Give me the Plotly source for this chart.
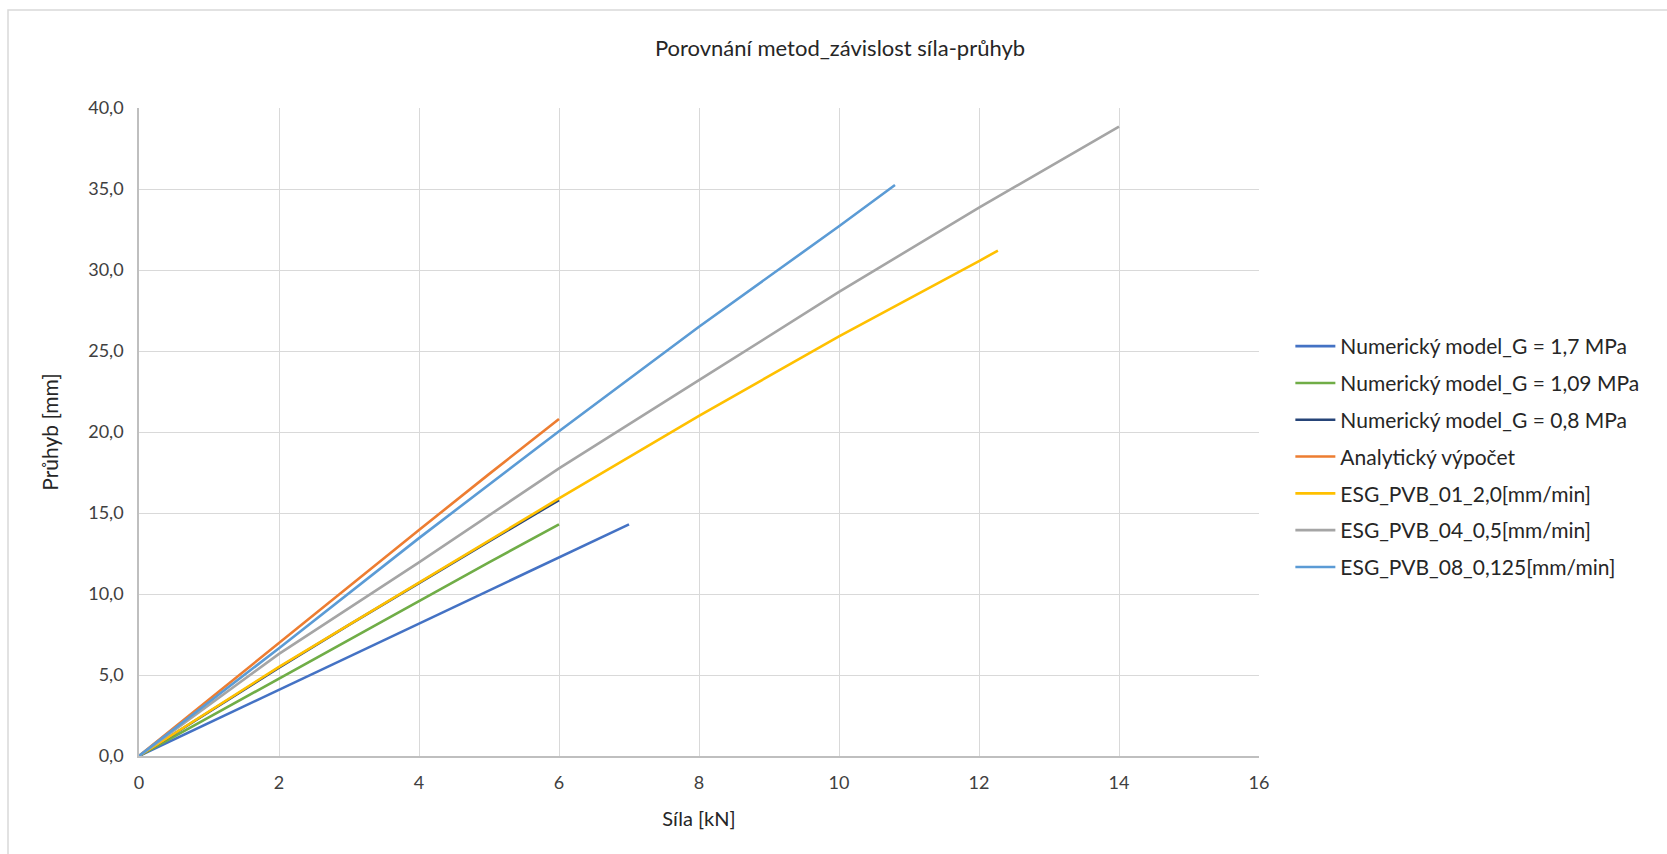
import plotly.graph_objects as go

# Síla [kN] / průhyb [mm] for each method
sila_g17 = [0, 1, 2, 3, 4, 5, 6, 7]
pruhyb_g17 = [0, 2.05, 4.1, 6.15, 8.2, 10.2, 12.25, 14.3]

sila_g109 = [0, 1, 2, 3, 4, 5, 6]
pruhyb_g109 = [0, 2.4, 4.8, 7.2, 9.55, 11.95, 14.3]

sila_g08 = [0, 1, 2, 3, 4, 5, 6]
pruhyb_g08 = [0, 2.75, 5.45, 8.1, 10.7, 13.25, 15.8]

sila_analyt = [0, 1, 2, 3, 4, 5, 6]
pruhyb_analyt = [0, 3.5, 7.0, 10.5, 13.95, 17.4, 20.8]

sila_esg01 = [0, 2, 4, 6, 8, 10, 12, 12.27]
pruhyb_esg01 = [0, 5.5, 10.7, 15.9, 21.0, 25.9, 30.55, 31.2]

sila_esg04 = [0, 2, 4, 6, 8, 10, 12, 14.0]
pruhyb_esg04 = [0, 6.3, 11.95, 17.75, 23.2, 28.65, 33.85, 38.85]

sila_esg08 = [0, 2, 4, 6, 8, 10, 10.8]
pruhyb_esg08 = [0, 6.65, 13.45, 20.05, 26.5, 32.7, 35.25]

series_names = [
    "Numerický model_G = 1,7 MPa",
    "Numerický model_G = 1,09 MPa",
    "Numerický model_G = 0,8 MPa",
    "Analytický výpočet",
    "ESG_PVB_01_2,0[mm/min]",
    "ESG_PVB_04_0,5[mm/min]",
    "ESG_PVB_08_0,125[mm/min]",
]
series_x = [sila_g17, sila_g109, sila_g08, sila_analyt, sila_esg01, sila_esg04, sila_esg08]
series_y = [pruhyb_g17, pruhyb_g109, pruhyb_g08, pruhyb_analyt, pruhyb_esg01, pruhyb_esg04, pruhyb_esg08]
series_colors = ["#4472C4", "#70AD47", "#264478", "#ED7D31", "#FFC000", "#A5A5A5", "#5B9BD5"]

x_ticks = [0, 2, 4, 6, 8, 10, 12, 14, 16]
y_ticks = [0, 5, 10, 15, 20, 25, 30, 35, 40]
y_ticktext = ["0,0", "5,0", "10,0", "15,0", "20,0", "25,0", "30,0", "35,0", "40,0"]

FONT = "Lato"
GRID = "#D9D9D9"

fig = go.Figure()
for i, (name, xs, ys, col) in enumerate(zip(series_names, series_x, series_y, series_colors)):
    fig.add_trace(go.Scatter(
        x=xs, y=ys, mode="lines", name=name,
        legendgroup=f"g{i}",
        line=dict(color=col, width=2.6),
        hoverinfo="x+y+name",
    ))

fig.update_layout(
    width=1667, height=854,
    margin=dict(l=139, r=408, t=108, b=98),
    paper_bgcolor="white", plot_bgcolor="white",
    font=dict(family=FONT, color="#262626", size=18),
    title=dict(
        text="Porovnání metod_závislost síla-průhyb",
        x=840 / 1667, xanchor="center", xref="container",
        y=1 - 48 / 854, yanchor="middle", yref="container",
        font=dict(family=FONT, size=22, color="#262626"),
    ),
    showlegend=True,
    legend=dict(
        x=1.028, xanchor="left", y=(756 - 326) / 648, yanchor="top",
        font=dict(family=FONT, size=21, color="#262626"),
        tracegroupgap=6.5, bgcolor="rgba(0,0,0,0)",
        itemwidth=40,
    ),
    xaxis=dict(
        range=[0, 16], tickvals=x_ticks, ticktext=[str(v) for v in x_ticks],
        showgrid=True, gridcolor=GRID, gridwidth=1.3,
        showline=True, linecolor="#BFBFBF", linewidth=1.5,
        zeroline=False, ticks="", ticklabelstandoff=10,
        tickfont=dict(family=FONT, size=18, color="#404040"),
        title=dict(text="Síla [kN]", font=dict(family=FONT, size=20, color="#262626"), standoff=20),
    ),
    yaxis=dict(
        range=[0, 40], tickvals=y_ticks, ticktext=y_ticktext,
        showgrid=True, gridcolor=GRID, gridwidth=1.3,
        showline=True, linecolor="#BFBFBF", linewidth=1.5,
        zeroline=False, ticks="", ticklabelstandoff=10,
        tickfont=dict(family=FONT, size=18, color="#404040"),
        title=dict(text="Průhyb [mm]", font=dict(family=FONT, size=21, color="#262626"), standoff=24),
    ),
    shapes=[
        # chart-area frame
        dict(type="rect", xref="paper", yref="paper",
             x0=(8 - 139) / 1120, x1=(1700 - 139) / 1120,
             y0=(756 - 900) / 648, y1=(756 - 10) / 648,
             line=dict(color="#D9D9D9", width=1.5), fillcolor="rgba(0,0,0,0)", layer="below"),
    ],
)

fig.write_html("out.html")
